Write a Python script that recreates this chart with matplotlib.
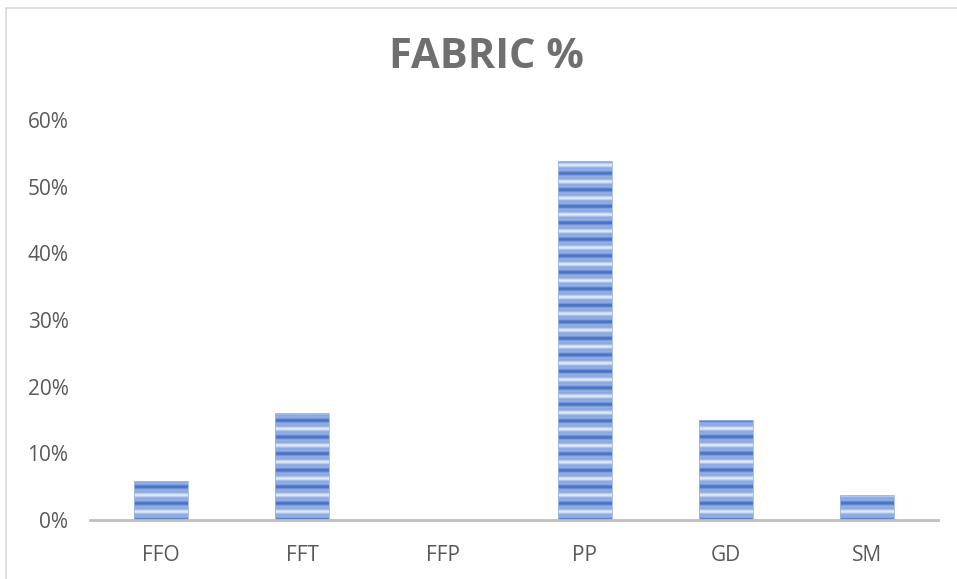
"""Bar chart of fabric shares with striped blue bars."""

import matplotlib.pyplot as plt
import numpy as np
from matplotlib.colors import LinearSegmentedColormap
from matplotlib.lines import Line2D
from matplotlib.ticker import PercentFormatter

categories = ["FFO", "FFT", "FFP", "PP", "GD", "SM"]
shares = [0.058, 0.161, 0.0, 0.538, 0.150, 0.038]
y_ticks = [0.0, 0.1, 0.2, 0.3, 0.4, 0.5, 0.6]

TEXT = "#595959"
plt.rcParams["font.family"] = ["Open Sans", "DejaVu Sans"]

fig = plt.figure(figsize=(9.57, 5.79), dpi=100)
ax = fig.add_axes([90 / 957, 1 - 520 / 579, 848 / 957, 400 / 579])

# light chart border (top and left)
fig.add_artist(Line2D([6 / 957, 1.0], [1 - 8 / 579] * 2, color="#d9d9d9", lw=1.2))
fig.add_artist(Line2D([6 / 957] * 2, [0.0, 1 - 8 / 579], color="#d9d9d9", lw=1.2))

stripes = LinearSegmentedColormap.from_list(
    "stripes", ["#e6eef9", "#b3c8ee", "#7c9ddb", "#4a73c6"])
period = 0.6 * 16.5 / 400

bars = ax.bar(range(len(categories)), shares, width=0.38,
              facecolor="none", edgecolor="#9db5e2", lw=0.6, zorder=3)
for bar in bars:
    h = bar.get_height()
    if h <= 0:
        continue
    x0 = bar.get_x()
    ys = np.linspace(h, 0, max(int(h / 0.6 * 400 * 4), 2))
    phase = (ys % period) / period
    tex = 0.55 + 0.35 * np.cos(2 * np.pi * phase) + 0.18 * np.cos(6 * np.pi * phase)
    tex = np.clip(tex, 0, 1)
    img = np.repeat(tex[:, None], 4, axis=1)
    im = ax.imshow(img, cmap=stripes, vmin=0, vmax=1, aspect="auto",
                   extent=(x0, x0 + bar.get_width(), 0, h), zorder=2,
                   interpolation="bilinear")
    im.set_clip_path(bar)

ax.set_xlim(-0.5, len(categories) - 0.5)
ax.set_ylim(0, 0.6)
ax.set_xticks(range(len(categories)))
ax.set_xticklabels(categories)
ax.set_yticks(y_ticks)
ax.yaxis.set_major_formatter(PercentFormatter(1.0, decimals=0))
ax.tick_params(axis="both", length=0, labelsize=15, labelcolor=TEXT)
ax.tick_params(axis="x", pad=18)
ax.tick_params(axis="y", pad=15.5)

for side in ["top", "right", "left"]:
    ax.spines[side].set_visible(False)
ax.spines["bottom"].set_color("#bfbfbf")
ax.spines["bottom"].set_linewidth(2)
ax.spines["bottom"].set_zorder(4)

fig.text(486 / 957, 1 - 58 / 579, "FABRIC %", ha="center", va="center",
         fontsize=30, fontweight="bold", color="#6f6f6f")

fig.savefig("out.png", dpi=100)
